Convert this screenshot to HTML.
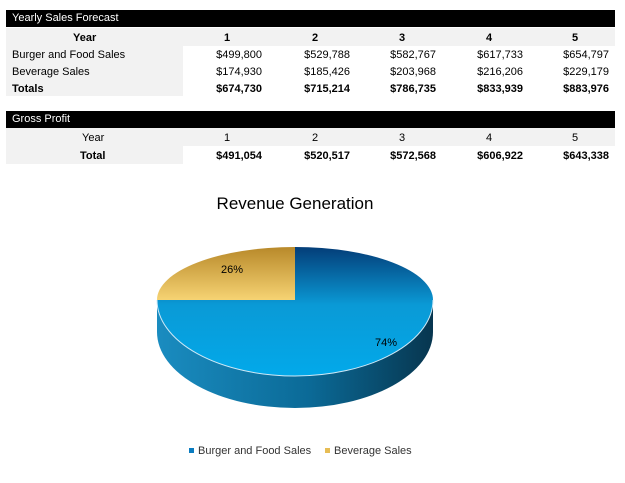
<!DOCTYPE html>
<html><head><style>
body{margin:0;width:625px;height:483px;background:#fff;position:relative;overflow:hidden;font-family:"Liberation Sans",Arial,sans-serif;font-size:11px;color:#000}
.a{position:absolute;white-space:nowrap}
.bar{position:absolute;left:6px;width:609px;height:17px;background:#000;color:#fff}
.bar span{position:absolute;left:6px;top:2px;font-size:11px}
.g{position:absolute;background:#f2f2f2}
.r{position:absolute;text-align:right;width:80px}
.b{font-weight:bold}
</style></head><body>
<div class="bar" style="top:10px"><span>Yearly Sales Forecast</span></div>
<div class="g" style="left:6px;top:28px;width:609px;height:18px"></div>
<div class="g" style="left:6px;top:46px;width:177px;height:50px"></div>
<div class="a b" style="left:73px;top:32px">Year</div>
<div class="a b" style="left:224px;top:32px">1</div>
<div class="a b" style="left:312px;top:32px">2</div>
<div class="a b" style="left:399px;top:32px">3</div>
<div class="a b" style="left:486px;top:32px">4</div>
<div class="a b" style="left:572px;top:32px">5</div>
<div class="a" style="left:12px;top:49px">Burger and Food Sales</div>
<div class="a" style="left:12px;top:66px">Beverage Sales</div>
<div class="a b" style="left:12px;top:83px">Totals</div>
<div class="r" style="left:182px;top:49px">$499,800</div>
<div class="r" style="left:270px;top:49px">$529,788</div>
<div class="r" style="left:356px;top:49px">$582,767</div>
<div class="r" style="left:443px;top:49px">$617,733</div>
<div class="r" style="left:529px;top:49px">$654,797</div>
<div class="r" style="left:182px;top:66px">$174,930</div>
<div class="r" style="left:270px;top:66px">$185,426</div>
<div class="r" style="left:356px;top:66px">$203,968</div>
<div class="r" style="left:443px;top:66px">$216,206</div>
<div class="r" style="left:529px;top:66px">$229,179</div>
<div class="r b" style="left:182px;top:83px">$674,730</div>
<div class="r b" style="left:270px;top:83px">$715,214</div>
<div class="r b" style="left:356px;top:83px">$786,735</div>
<div class="r b" style="left:443px;top:83px">$833,939</div>
<div class="r b" style="left:529px;top:83px">$883,976</div>

<div class="bar" style="top:111px"><span>Gross Profit</span></div>
<div class="g" style="left:6px;top:128px;width:609px;height:18px"></div>
<div class="g" style="left:6px;top:146px;width:177px;height:18px"></div>
<div class="a" style="left:82px;top:132px">Year</div>
<div class="a" style="left:224px;top:132px">1</div>
<div class="a" style="left:312px;top:132px">2</div>
<div class="a" style="left:399px;top:132px">3</div>
<div class="a" style="left:486px;top:132px">4</div>
<div class="a" style="left:572px;top:132px">5</div>
<div class="a b" style="left:80px;top:150px">Total</div>
<div class="r b" style="left:182px;top:150px">$491,054</div>
<div class="r b" style="left:270px;top:150px">$520,517</div>
<div class="r b" style="left:356px;top:150px">$572,568</div>
<div class="r b" style="left:443px;top:150px">$606,922</div>
<div class="r b" style="left:529px;top:150px">$643,338</div>

<div class="a" style="left:0;width:590px;text-align:center;top:194px;font-size:17px">Revenue Generation</div>

<svg class="a" style="left:0;top:0" width="625" height="483">
<defs>
<linearGradient id="side" x1="0" x2="1" y1="0" y2="0">
<stop offset="0" stop-color="#1a8cc0"/><stop offset="0.55" stop-color="#0b6a97"/><stop offset="1" stop-color="#07364f"/></linearGradient>
<linearGradient id="top" x1="0" x2="0" y1="0" y2="1">
<stop offset="0" stop-color="#043d78"/><stop offset="0.45" stop-color="#0a9ad6"/><stop offset="1" stop-color="#02a9ea"/></linearGradient>
<linearGradient id="yel" x1="0" x2="0" y1="0" y2="1">
<stop offset="0" stop-color="#b8892a"/><stop offset="1" stop-color="#f6d373"/></linearGradient>
</defs>
<path d="M157,300 L157,332 A138,76 0 0 0 433,332 L433,300 A138,76 0 0 1 157,300 Z" fill="url(#side)"/>
<path d="M295,300 L295,247 A138,53 0 0 1 433,300 A138,76 0 0 1 157,300 Z" fill="url(#top)"/>
<path d="M295,300 L157,300 A138,53 0 0 1 295,247 Z" fill="url(#yel)"/>
<path d="M157,300 A138,76 0 0 0 433,300" fill="none" stroke="#cfe9f7" stroke-width="1"/>
<text x="221" y="273" font-family="Liberation Sans, sans-serif" font-size="11">26%</text>
<text x="375" y="346" font-family="Liberation Sans, sans-serif" font-size="11">74%</text>
<rect x="189" y="448" width="5" height="5" fill="#0a7cc0"/>
<text x="198" y="454" font-family="Liberation Sans, sans-serif" font-size="11" fill="#333">Burger and Food Sales</text>
<rect x="325" y="448" width="5" height="5" fill="#e7bd55"/>
<text x="334" y="454" font-family="Liberation Sans, sans-serif" font-size="11" fill="#333">Beverage Sales</text>
</svg>
</body></html>
